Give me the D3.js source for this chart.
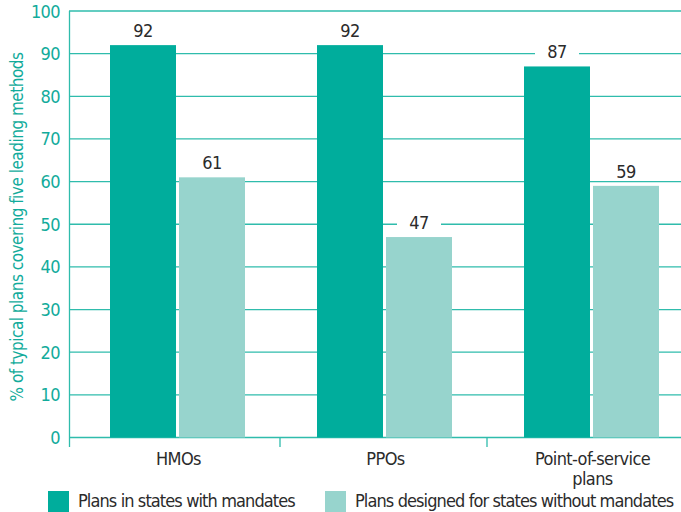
<!DOCTYPE html>
<html>
<head>
<meta charset="utf-8">
<script src="https://cdn.jsdelivr.net/npm/d3@7"></script>
<style>
  body { margin: 0; background: #fff; }
  svg { display: block; font-family: "DejaVu Sans Condensed", "Liberation Sans Narrow", sans-serif; letter-spacing: -0.6px; }
</style>
</head>
<body>
<svg id="chart" width="681" height="512"></svg>
<script>
// chart data
const categories = ["HMOs", "PPOs", "Point-of-service plans"];
const seriesNames = ["Plans in states with mandates", "Plans designed for states without mandates"];
const withMandates = [92, 92, 87];
const withoutMandates = [61, 47, 59];
const yTicks = [0, 10, 20, 30, 40, 50, 60, 70, 80, 90, 100];

const colors = ["#00ad9c", "#97d4cd"];
const axisColor = "#2fbcac";
const textColor = "#2b2b2b";

const svg = d3.select("#chart");
const W = 681;

const y = d3.scaleLinear().domain([0, 100]).range([437.5, 11]);
const x = d3.scaleBand().domain(categories).range([73, 694]);
const groupW = 135;
const xInner = d3.scaleBand().domain(seriesNames).range([0, groupW]).paddingInner(3 / 69);

// grid lines
svg.append("g").selectAll("line")
    .data(yTicks)
    .enter().append("line")
    .attr("x1", 69).attr("x2", W)
    .attr("y1", d => y(d)).attr("y2", d => y(d))
    .attr("stroke", axisColor)
    .attr("stroke-width", d => d == 0 ? 1.6 : 1.3);

// y tick labels
svg.append("g").selectAll("text")
    .data(yTicks)
    .enter().append("text")
    .attr("x", 60)
    .attr("y", d => y(d) + 6.5)
    .attr("text-anchor", "end")
    .attr("font-size", 18)
    .attr("fill", "#12ab9b")
    .text(d => d);

// y axis line
svg.append("line")
    .attr("x1", 69.5).attr("x2", 69.5)
    .attr("y1", y(100)).attr("y2", 447)
    .attr("stroke", axisColor).attr("stroke-width", 1.3);

// x ticks between groups
svg.append("g").selectAll("line")
    .data(categories.slice(1))
    .enter().append("line")
    .attr("x1", d => x(d)).attr("x2", d => x(d))
    .attr("y1", y(0)).attr("y2", 447)
    .attr("stroke", axisColor).attr("stroke-width", 1.3);

// y axis title
svg.append("text")
    .attr("transform", "translate(23," + 227 + ") rotate(-90)")
    .attr("text-anchor", "middle")
    .attr("font-size", 17)
    .attr("letter-spacing", "-0.5px")
    .attr("fill", "#12ab9b")
    .text("% of typical plans covering five leading methods");

const rows = [];
categories.forEach((c, i) => {
    rows.push({ cat: c, s: seriesNames[0], v: withMandates[i], k: 0 });
    rows.push({ cat: c, s: seriesNames[1], v: withoutMandates[i], k: 1 });
});
const bx = d => x(d.cat) + (x.bandwidth() - groupW) / 2 + 1 + xInner(d.s);

// bars
svg.append("g").selectAll("rect")
    .data(rows)
    .enter().append("rect")
    .attr("x", bx)
    .attr("y", d => y(d.v))
    .attr("width", xInner.bandwidth())
    .attr("height", d => y(0) - y(d.v))
    .attr("fill", d => colors[d.k]);

// value labels with white backing
const labels = svg.append("g").selectAll("g")
    .data(rows)
    .enter().append("g")
    .attr("transform", d => "translate(" + (bx(d) + xInner.bandwidth() / 2) + "," + (y(d.v) - 8) + ")");
labels.append("rect")
    .attr("x", -22).attr("y", -17)
    .attr("width", 44).attr("height", 20)
    .attr("fill", "#fff");
labels.append("text")
    .attr("text-anchor", "middle")
    .attr("font-size", 18)
    .attr("fill", textColor)
    .text(d => d.v);

// category labels
const catLines = { "Point-of-service plans": ["Point-of-service", "plans"] };
svg.append("g").selectAll("text")
    .data(categories)
    .enter().append("text")
    .attr("x", d => x(d) + x.bandwidth() / 2 + 2)
    .attr("y", 465)
    .attr("text-anchor", "middle")
    .attr("font-size", 18)
    .attr("fill", textColor)
    .each(function(d) {
        const lines = catLines[d] || [d];
        d3.select(this).selectAll("tspan")
            .data(lines)
            .enter().append("tspan")
            .attr("x", x(d) + x.bandwidth() / 2 + 2)
            .attr("dy", (l, i) => i == 0 ? 0 : 20)
            .text(l => l);
    });

// legend
const legendX = [48, 325];
const legend = svg.append("g").selectAll("g")
    .data(seriesNames)
    .enter().append("g")
    .attr("transform", (d, i) => "translate(" + legendX[i] + ",491)");
legend.append("rect")
    .attr("width", 21).attr("height", 21)
    .attr("fill", (d, i) => colors[i]);
legend.append("text")
    .attr("x", 30).attr("y", 16)
    .attr("font-size", 18)
    .attr("letter-spacing", "-0.9px")
    .attr("fill", textColor)
    .text(d => d);
</script>
</body>
</html>
